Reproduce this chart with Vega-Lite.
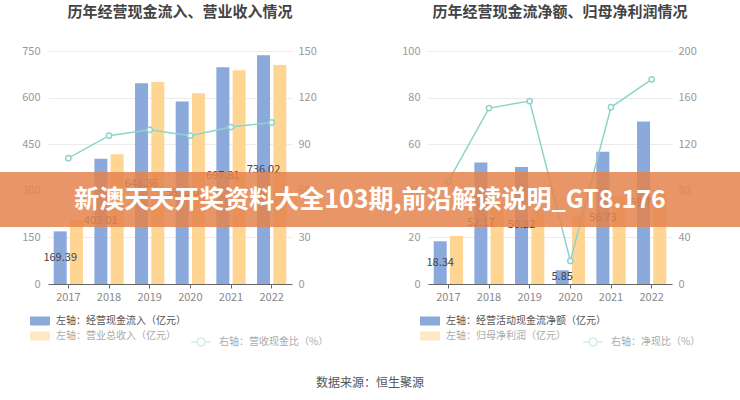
{
  "$schema": "https://vega.github.io/schema/vega-lite/v6.json",
  "background": "white",
  "padding": {"left": 0, "top": 5, "right": 0, "bottom": 0},
  "datasets": {
    "left": [
      {"year": "2017", "s": "左轴：经营现金流入（亿元）", "v": 169.39},
      {"year": "2018", "s": "左轴：经营现金流入（亿元）", "v": 403.01},
      {"year": "2019", "s": "左轴：经营现金流入（亿元）", "v": 646.36},
      {"year": "2020", "s": "左轴：经营现金流入（亿元）", "v": 587.2},
      {"year": "2021", "s": "左轴：经营现金流入（亿元）", "v": 697.81},
      {"year": "2022", "s": "左轴：经营现金流入（亿元）", "v": 736.02},
      {"year": "2017", "s": "左轴：营业总收入（亿元）", "v": 206},
      {"year": "2018", "s": "左轴：营业总收入（亿元）", "v": 418},
      {"year": "2019", "s": "左轴：营业总收入（亿元）", "v": 650},
      {"year": "2020", "s": "左轴：营业总收入（亿元）", "v": 614},
      {"year": "2021", "s": "左轴：营业总收入（亿元）", "v": 688},
      {"year": "2022", "s": "左轴：营业总收入（亿元）", "v": 705},
      {"year": "2017", "s": "右轴：营收现金比（%）", "v": 81},
      {"year": "2018", "s": "右轴：营收现金比（%）", "v": 95.5},
      {"year": "2019", "s": "右轴：营收现金比（%）", "v": 99.3},
      {"year": "2020", "s": "右轴：营收现金比（%）", "v": 95.5},
      {"year": "2021", "s": "右轴：营收现金比（%）", "v": 101},
      {"year": "2022", "s": "右轴：营收现金比（%）", "v": 104}
    ],
    "right": [
      {"year": "2017", "s": "左轴：经营活动现金流净额（亿元）", "v": 18.34},
      {"year": "2018", "s": "左轴：经营活动现金流净额（亿元）", "v": 52.17},
      {"year": "2019", "s": "左轴：经营活动现金流净额（亿元）", "v": 50.22},
      {"year": "2020", "s": "左轴：经营活动现金流净额（亿元）", "v": 5.85},
      {"year": "2021", "s": "左轴：经营活动现金流净额（亿元）", "v": 56.73},
      {"year": "2022", "s": "左轴：经营活动现金流净额（亿元）", "v": 69.76},
      {"year": "2017", "s": "左轴：归母净利润（亿元）", "v": 20.6},
      {"year": "2018", "s": "左轴：归母净利润（亿元）", "v": 34.5},
      {"year": "2019", "s": "左轴：归母净利润（亿元）", "v": 32},
      {"year": "2020", "s": "左轴：归母净利润（亿元）", "v": 29.5},
      {"year": "2021", "s": "左轴：归母净利润（亿元）", "v": 37.4},
      {"year": "2022", "s": "左轴：归母净利润（亿元）", "v": 39.7},
      {"year": "2017", "s": "右轴：净现比（%）", "v": 88},
      {"year": "2018", "s": "右轴：净现比（%）", "v": 151},
      {"year": "2019", "s": "右轴：净现比（%）", "v": 157},
      {"year": "2020", "s": "右轴：净现比（%）", "v": 19.8},
      {"year": "2021", "s": "右轴：净现比（%）", "v": 151.7},
      {"year": "2022", "s": "右轴：净现比（%）", "v": 175.7}
    ]
  },
  "title": {
    "text": "数据来源：恒生聚源",
    "orient": "bottom",
    "anchor": "middle",
    "frame": "bounds",
    "fontSize": 12,
    "fontWeight": "normal",
    "color": "#555555",
    "offset": 29
  },
  "spacing": 136,
  "bounds": "flush",
  "resolve": {
    "scale": {"x": "independent", "y": "independent", "xOffset": "independent", "color": "independent", "stroke": "independent"}
  },
  "hconcat": [
    {
      "width": 244,
      "height": 233,
      "title": {"text": "历年经营现金流入、营业收入情况", "fontSize": 15, "fontWeight": "bold", "color": "#444444", "anchor": "middle", "frame": "group", "dx": 10, "offset": 25},
      "data": {"name": "left"},
      "resolve": {"scale": {"y": "independent"}},
      "layer": [
        {
          "mark": {"type": "bar"},
          "transform": [{"filter": {"field": "s", "oneOf": ["左轴：经营现金流入（亿元）", "左轴：营业总收入（亿元）"]}}],
          "encoding": {
            "x": {"field": "year", "type": "nominal", "scale": {"paddingInner": 0.28, "paddingOuter": 0.14}, "axis": {"title": null, "labelAngle": 0}},
            "xOffset": {"field": "s", "type": "nominal", "scale": {"domain": ["左轴：经营现金流入（亿元）", "左轴：营业总收入（亿元）"], "paddingInner": 0.2, "paddingOuter": 0}},
            "y": {"field": "v", "type": "quantitative", "scale": {"domain": [0, 750]}, "axis": {"orient": "left", "title": null, "values": [0, 150, 300, 450, 600, 750], "grid": true, "labelPadding": 8}},
            "color": {
              "field": "s", "type": "nominal",
              "scale": {"domain": ["左轴：经营现金流入（亿元）", "左轴：营业总收入（亿元）"], "range": ["#8BA9DB", "#FFD593"]},
              "legend": {
                "orient": "none", "legendX": -18, "legendY": 260, "direction": "vertical", "title": null,
                "symbolType": "M-1,-0.45H1V0.45H-1Z", "symbolSize": 400, "symbolStrokeWidth": 0, "labelOffset": 6, "rowPadding": 0,
                "labelColor": {"expr": "datum.label === '左轴：营业总收入（亿元）' ? '#aaaaaa' : '#555555'"},
                "symbolOpacity": {"expr": "datum.value === '左轴：营业总收入（亿元）' ? 0.55 : 1"}
              }
            }
          }
        },
        {
          "mark": {"type": "line", "strokeWidth": 1.5, "point": {"filled": false, "fill": "white", "size": 28, "strokeWidth": 1.5}},
          "transform": [{"filter": {"field": "s", "equal": "右轴：营收现金比（%）"}}],
          "encoding": {
            "x": {"field": "year", "type": "nominal"},
            "y": {"field": "v", "type": "quantitative", "scale": {"domain": [0, 150]}, "axis": {"orient": "right", "title": null, "values": [0, 30, 60, 90, 120, 150], "grid": false, "labelPadding": 6}},
            "stroke": {
              "field": "s", "type": "nominal",
              "scale": {"domain": ["右轴：营收现金比（%）"], "range": ["#8FD4CB"]},
              "legend": {
                "orient": "none", "legendX": 142, "legendY": 280, "title": null,
                "symbolType": "M-1,0H-0.4M0.4,0H1M0.4,0A0.4,0.4,0,1,1,-0.4,0A0.4,0.4,0,1,1,0.4,0",
                "symbolSize": 400, "symbolStrokeWidth": 1.2, "symbolOpacity": 0.55, "labelOffset": 7, "labelColor": "#aaaaaa"
              }
            }
          }
        },
        {
          "mark": {"type": "text", "fontSize": 11, "color": "#444444"},
          "transform": [{"filter": {"field": "s", "equal": "左轴：经营现金流入（亿元）"}}],
          "encoding": {
            "x": {"field": "year", "type": "nominal"},
            "xOffset": {"field": "s", "type": "nominal"},
            "y": {"field": "v", "type": "quantitative", "scale": {"domain": [0, 1500]}, "axis": null},
            "text": {"field": "v", "type": "quantitative", "format": ".2f"}
          }
        }
      ]
    },
    {
      "width": 244,
      "height": 233,
      "title": {"text": "历年经营现金流净额、归母净利润情况", "fontSize": 15, "fontWeight": "bold", "color": "#444444", "anchor": "middle", "frame": "group", "dx": 10, "offset": 25},
      "data": {"name": "right"},
      "resolve": {"scale": {"y": "independent"}},
      "layer": [
        {
          "mark": {"type": "bar"},
          "transform": [{"filter": {"field": "s", "oneOf": ["左轴：经营活动现金流净额（亿元）", "左轴：归母净利润（亿元）"]}}],
          "encoding": {
            "x": {"field": "year", "type": "nominal", "scale": {"paddingInner": 0.28, "paddingOuter": 0.14}, "axis": {"title": null, "labelAngle": 0}},
            "xOffset": {"field": "s", "type": "nominal", "scale": {"domain": ["左轴：经营活动现金流净额（亿元）", "左轴：归母净利润（亿元）"], "paddingInner": 0.2, "paddingOuter": 0}},
            "y": {"field": "v", "type": "quantitative", "scale": {"domain": [0, 100]}, "axis": {"orient": "left", "title": null, "values": [0, 20, 40, 60, 80, 100], "grid": true, "labelPadding": 8}},
            "color": {
              "field": "s", "type": "nominal",
              "scale": {"domain": ["左轴：经营活动现金流净额（亿元）", "左轴：归母净利润（亿元）"], "range": ["#8BA9DB", "#FFD593"]},
              "legend": {
                "orient": "none", "legendX": -8, "legendY": 260, "direction": "vertical", "title": null,
                "symbolType": "M-1,-0.45H1V0.45H-1Z", "symbolSize": 400, "symbolStrokeWidth": 0, "labelOffset": 6, "rowPadding": 0,
                "labelColor": {"expr": "datum.label === '左轴：归母净利润（亿元）' ? '#aaaaaa' : '#555555'"},
                "symbolOpacity": {"expr": "datum.value === '左轴：归母净利润（亿元）' ? 0.55 : 1"}
              }
            }
          }
        },
        {
          "mark": {"type": "line", "strokeWidth": 1.5, "point": {"filled": false, "fill": "white", "size": 28, "strokeWidth": 1.5}},
          "transform": [{"filter": {"field": "s", "equal": "右轴：净现比（%）"}}],
          "encoding": {
            "x": {"field": "year", "type": "nominal"},
            "y": {"field": "v", "type": "quantitative", "scale": {"domain": [0, 200]}, "axis": {"orient": "right", "title": null, "values": [0, 40, 80, 120, 160, 200], "grid": false, "labelPadding": 6}},
            "stroke": {
              "field": "s", "type": "nominal",
              "scale": {"domain": ["右轴：净现比（%）"], "range": ["#8FD4CB"]},
              "legend": {
                "orient": "none", "legendX": 154, "legendY": 280, "title": null,
                "symbolType": "M-1,0H-0.4M0.4,0H1M0.4,0A0.4,0.4,0,1,1,-0.4,0A0.4,0.4,0,1,1,0.4,0",
                "symbolSize": 400, "symbolStrokeWidth": 1.2, "symbolOpacity": 0.55, "labelOffset": 7, "labelColor": "#aaaaaa"
              }
            }
          }
        },
        {
          "mark": {"type": "text", "fontSize": 11, "color": "#444444"},
          "transform": [{"filter": {"field": "s", "equal": "左轴：经营活动现金流净额（亿元）"}}],
          "encoding": {
            "x": {"field": "year", "type": "nominal"},
            "xOffset": {"field": "s", "type": "nominal"},
            "y": {"field": "v", "type": "quantitative", "scale": {"domain": [0, 200]}, "axis": null},
            "text": {"field": "v", "type": "quantitative", "format": ".2f"}
          }
        },
        {
          "data": {"values": [{"t": "新澳天天开奖资料大全103期,前沿解读说明_GT8.176"}]},
          "layer": [
            {
              "mark": {"type": "rect", "color": "#E4844C", "opacity": 0.85},
              "encoding": {"x": {"value": -428}, "x2": {"value": 312}, "y": {"value": 121}, "y2": {"value": 176}}
            },
            {
              "mark": {"type": "text", "color": "white", "fontSize": 25, "fontWeight": "bold", "font": "Noto Sans CJK SC", "align": "center", "baseline": "middle"},
              "encoding": {"x": {"value": -58}, "y": {"value": 149}, "text": {"field": "t", "type": "nominal"}}
            }
          ]
        }
      ]
    }
  ],
  "config": {
    "font": "Noto Sans CJK SC",
    "view": {"stroke": null},
    "axis": {"labelFont": "Noto Sans CJK SC"},
    "axisY": {"domain": false, "ticks": false, "labelColor": "#999999", "labelFontSize": 11, "gridColor": "#ebebeb", "gridWidth": 1},
    "axisX": {"domain": true, "domainColor": "#666666", "ticks": true, "tickColor": "#666666", "tickSize": 4, "labelColor": "#888888", "labelFontSize": 11, "labelPadding": 3, "grid": false},
    "legend": {"labelFont": "Noto Sans CJK SC", "labelFontSize": 10, "padding": 0},
    "title": {"font": "Noto Sans CJK SC"}
  }
}
